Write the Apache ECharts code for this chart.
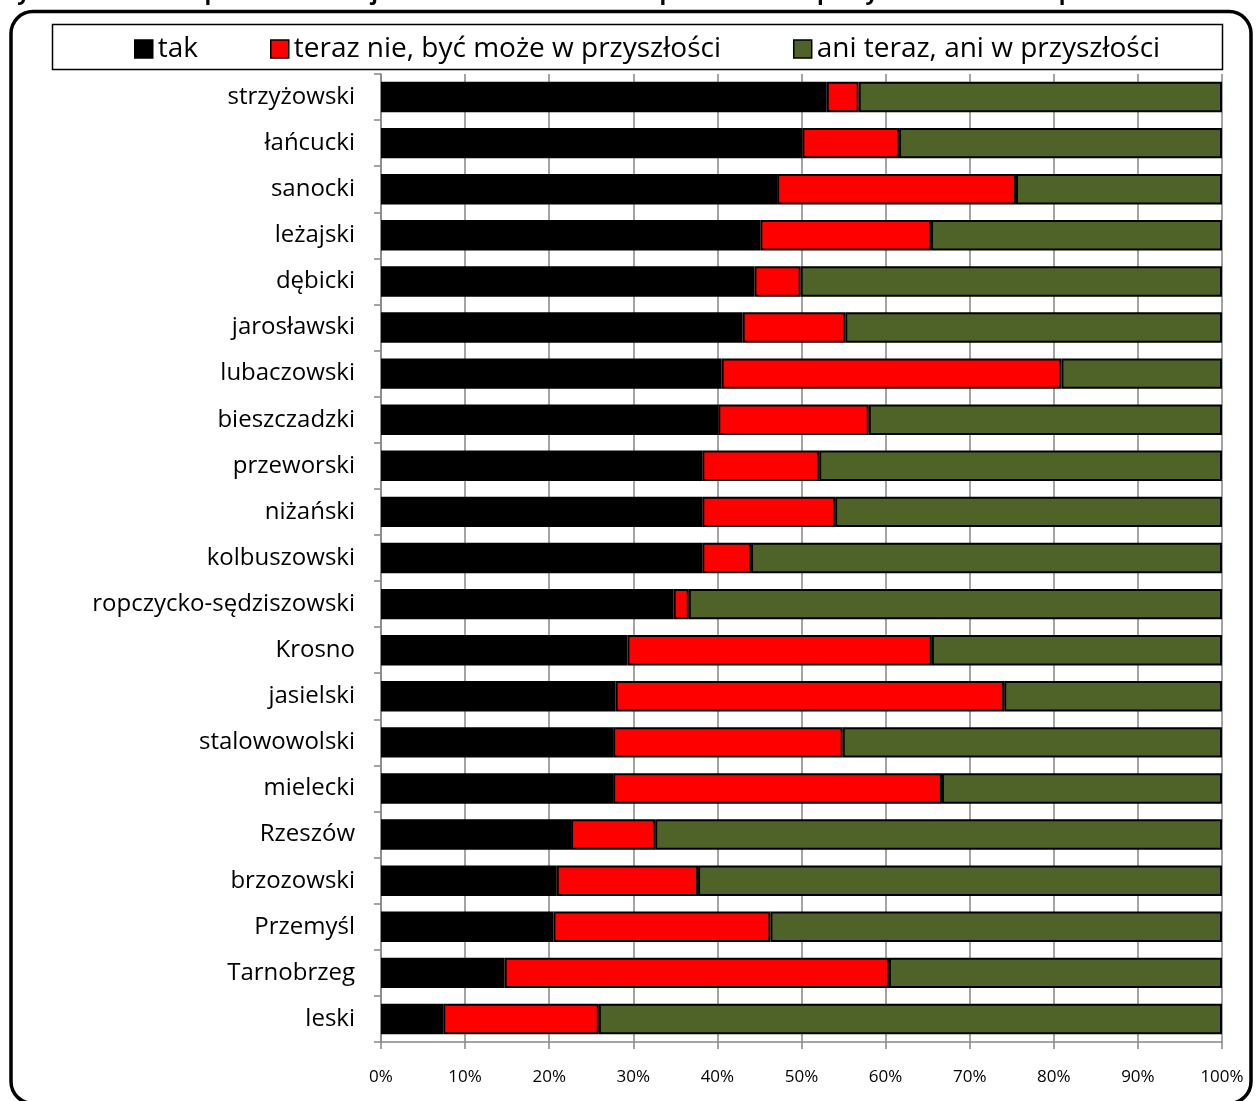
<!DOCTYPE html>
<html>
<head>
<meta charset="utf-8">
<script src="https://cdn.jsdelivr.net/npm/echarts@6/dist/echarts.min.js"></script>
<style>html,body{margin:0;padding:0;background:#fff;}#c{width:1256px;height:1101px;}</style>
</head>
<body>
<div id="c"></div>
<script>
const categories = ["strzyżowski","łańcucki","sanocki","leżajski","dębicki","jarosławski","lubaczowski","bieszczadzki","przeworski","niżański","kolbuszowski","ropczycko-sędziszowski","Krosno","jasielski","stalowowolski","mielecki","Rzeszów","brzozowski","Przemyśl","Tarnobrzeg","leski"];
const seriesNames = ["tak","teraz nie, być może w przyszłości","ani teraz, ani w przyszłości"];
const tak =      [53.0,50.1,47.1,45.1,44.4,43.0,40.5,40.1,38.2,38.2,38.2,34.8,29.3,27.9,27.6,27.6,22.6,20.9,20.5,14.7,7.4];
const terazNie = [3.8,11.5,28.4,20.3,5.5,12.2,40.4,17.9,13.9,15.8,5.8,1.8,36.2,46.2,27.3,39.1,10.0,16.8,25.8,45.7,18.5];
const ani =      [43.2,38.4,24.5,34.6,50.1,44.8,19.1,42.0,47.9,46.0,56.0,63.4,34.5,25.9,45.1,33.3,67.4,62.3,53.7,39.6,74.1];
const xTicks = {min:0, max:100, interval:10};
const titleText = "Wykres 6. Zamiar opuszczenia miejscowości zamieszkania w poszukiwaniu pracy w zależności od powiatu";

const colors = ["#000000","#FF0000","#4F6228"];
const font = "'Open Sans', 'Noto Sans', sans-serif";
const chart = echarts.init(document.getElementById('c'));
const values = [tak, terazNie, ani];
chart.setOption({
  animation:false,
  backgroundColor:'#fff',
  textStyle:{fontFamily:font},
  graphic:[
    {type:'text', left:-4, top:-17, z:10, style:{text:titleText, font:"bold 22px 'Open Sans', sans-serif", fill:'#000'}},
    {type:'rect', shape:{x:11, y:11.5, width:1240, height:1092, r:22}, style:{fill:'#fff', stroke:'#000', lineWidth:3.5}, z:-1},
    {type:'rect', shape:{x:52.5, y:24.5, width:1170, height:45}, style:{fill:'#fff', stroke:'#000', lineWidth:1.5}, z:-1}
  ],
  legend:{
    data:seriesNames,
    left:129, top:30,
    itemWidth:18, itemHeight:18, itemGap:72,
    icon:'rect',
    textStyle:{fontSize:28, color:'#000', fontFamily:font},
    itemStyle:{borderColor:'#000', borderWidth:1.5}
  },
  grid:{left:381, right:34, top:74, bottom:59, containLabel:false},
  xAxis:{
    type:'value', min:xTicks.min, max:xTicks.max, interval:xTicks.interval,
    axisLabel:{formatter:'{value}%', fontSize:17, color:'#000', margin:27},
    axisLine:{show:true, lineStyle:{color:'#868686', width:1.5}},
    axisTick:{show:true, length:7, lineStyle:{color:'#868686', width:1.5}},
    splitLine:{show:true, lineStyle:{color:'#868686', width:1.5}}
  },
  yAxis:{
    type:'category', data:categories, inverse:true,
    axisLabel:{fontSize:24, color:'#000', margin:26},
    axisLine:{show:true, lineStyle:{color:'#868686', width:1.5}},
    axisTick:{show:true, length:7, lineStyle:{color:'#868686', width:1.5}}
  },
  series: seriesNames.map((n,i)=>({
    name:n, type:'bar', stack:'total', data:values[i],
    barCategoryGap:'34%',
    itemStyle:{color:colors[i], borderColor:'#000', borderWidth:2}
  }))
});
</script>
</body>
</html>
